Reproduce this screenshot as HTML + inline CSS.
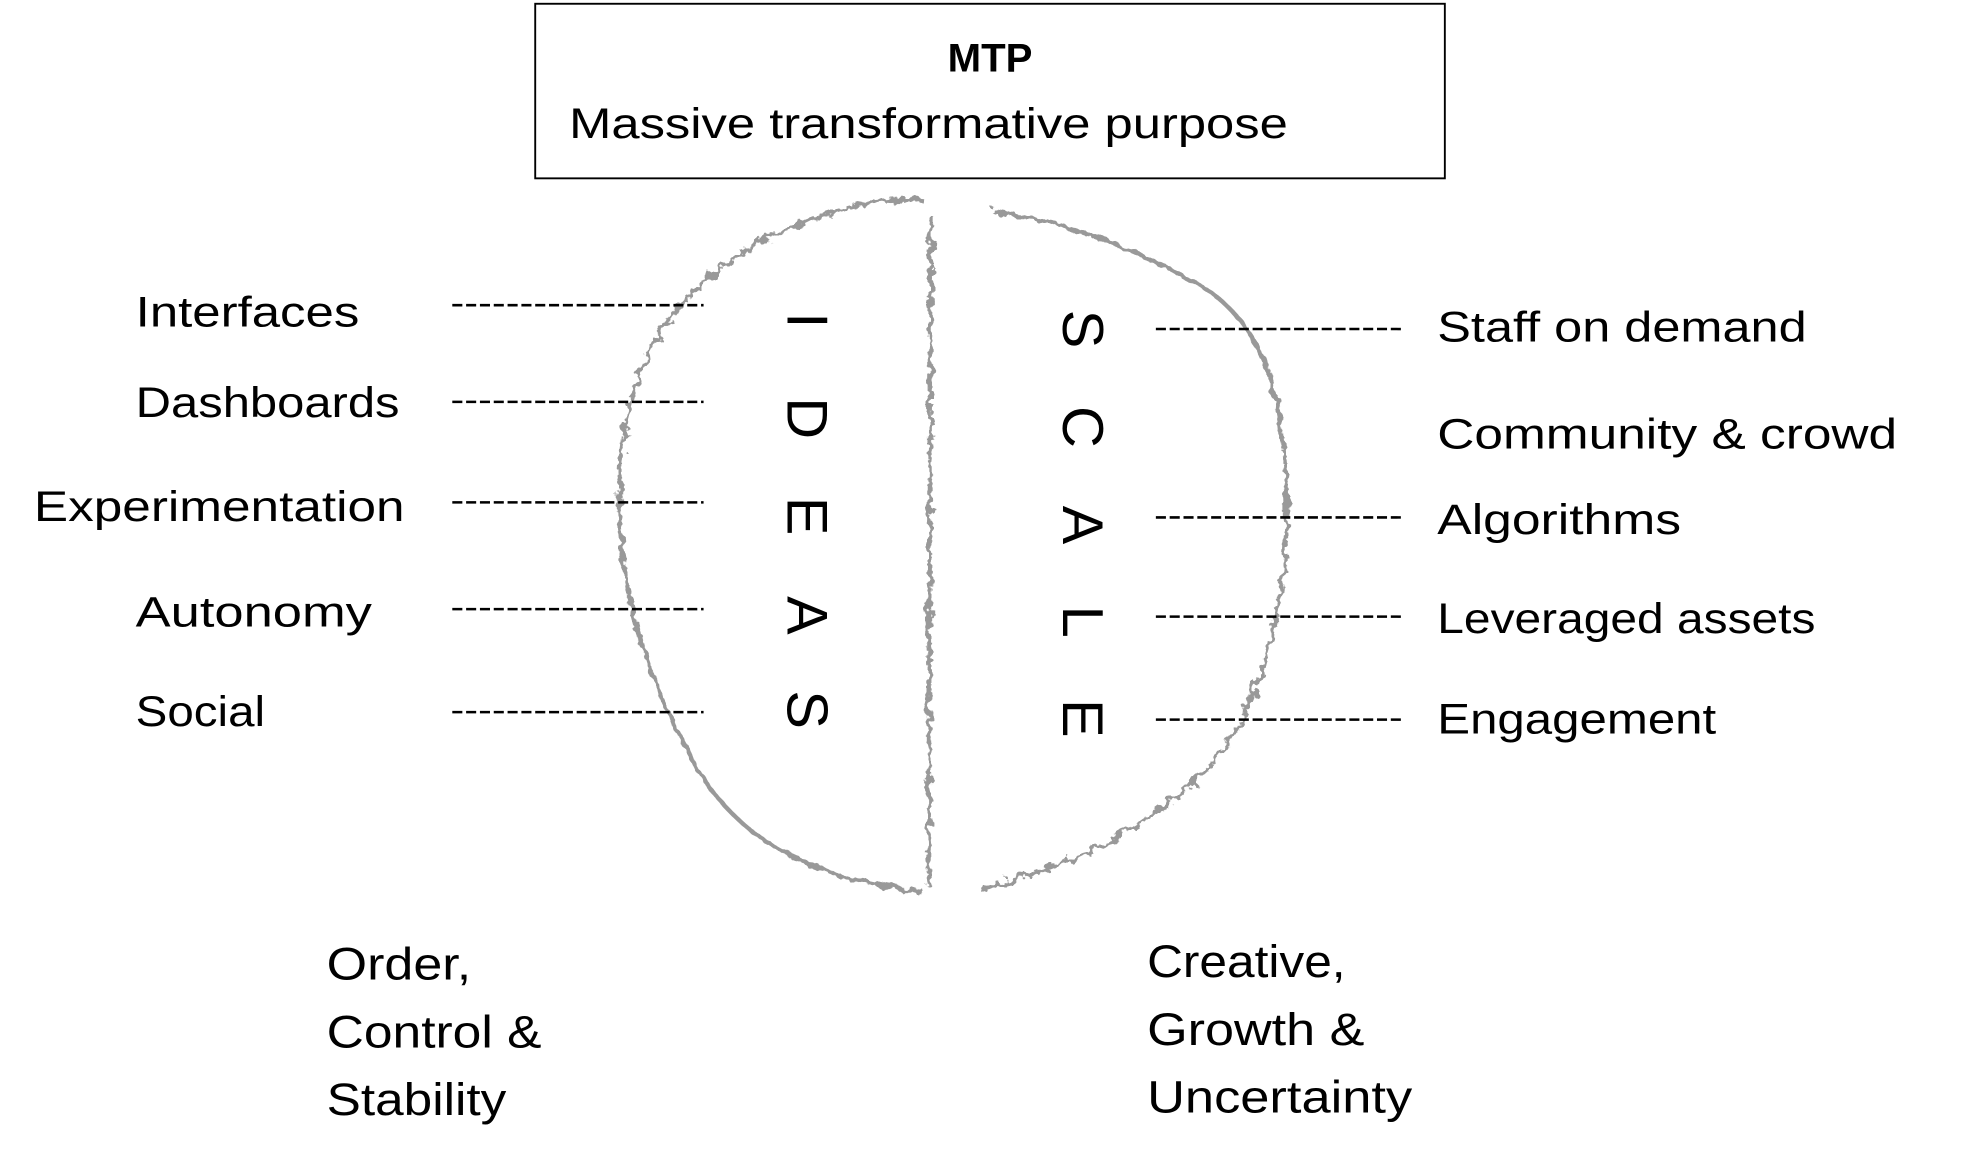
<!DOCTYPE html>
<html><head><meta charset="utf-8"><style>
html,body{margin:0;padding:0;background:#fff;}
svg{display:block}
text{font-family:"Liberation Sans",sans-serif;fill:#000;}
</style></head><body>
<svg width="1970" height="1168" viewBox="0 0 1568 930" preserveAspectRatio="none" xmlns="http://www.w3.org/2000/svg">
<defs>
<filter id="rough" x="-10%" y="-10%" width="120%" height="120%">
<feTurbulence type="fractalNoise" baseFrequency="0.12" numOctaves="3" seed="3"/>
<feDisplacementMap in="SourceGraphic" scale="10"/>
</filter>
</defs>
<rect x="426" y="3" width="724" height="139" fill="#fff" stroke="#000" stroke-width="1.5"/>
<text x="788" y="57" font-size="32" font-weight="bold" text-anchor="middle">MTP</text>
<text x="453" y="110" font-size="34" textLength="572" lengthAdjust="spacingAndGlyphs">Massive transformative purpose</text>

<g filter="url(#rough)" fill="none" stroke="#999" stroke-width="3.5" stroke-linejoin="round">
<path d="M735,160 C700,155 650,170 600,195 C550,225 520,265 505,310 C490,360 490,420 500,470 C510,520 530,570 560,620 C590,665 640,700 735,710"/>
<path d="M741,172 L739,705"/>
<path d="M790,168 C840,175 900,195 960,230 C1010,265 1022,320 1024,400 C1025,470 1010,530 985,580 C955,630 890,680 780,708"/>
</g>

<g stroke="#000" stroke-width="2" stroke-dasharray="8,3">
<line x1="360" y1="243" x2="560" y2="243"/>
<line x1="360" y1="320" x2="560" y2="320"/>
<line x1="360" y1="400" x2="560" y2="400"/>
<line x1="360" y1="485" x2="560" y2="485"/>
<line x1="360" y1="567" x2="560" y2="567"/>
<line x1="920" y1="262" x2="1117" y2="262"/>
<line x1="920" y1="412" x2="1115" y2="412"/>
<line x1="920" y1="491" x2="1117" y2="491"/>
<line x1="920" y1="573" x2="1117" y2="573"/>
</g>

<g font-size="34">
<text x="108" y="260" textLength="178" lengthAdjust="spacingAndGlyphs">Interfaces</text>
<text x="108" y="332" textLength="210" lengthAdjust="spacingAndGlyphs">Dashboards</text>
<text x="27" y="415" textLength="295" lengthAdjust="spacingAndGlyphs">Experimentation</text>
<text x="108" y="499" textLength="188" lengthAdjust="spacingAndGlyphs">Autonomy</text>
<text x="108" y="578" textLength="103" lengthAdjust="spacingAndGlyphs">Social</text>
<text x="1144" y="272" textLength="294" lengthAdjust="spacingAndGlyphs">Staff on demand</text>
<text x="1144" y="357" textLength="366" lengthAdjust="spacingAndGlyphs">Community &amp; crowd</text>
<text x="1144" y="425" textLength="194" lengthAdjust="spacingAndGlyphs">Algorithms</text>
<text x="1144" y="504" textLength="301" lengthAdjust="spacingAndGlyphs">Leveraged assets</text>
<text x="1144" y="584" textLength="222" lengthAdjust="spacingAndGlyphs">Engagement</text>
</g>
<g font-size="36">
<text x="260" y="780" textLength="115" lengthAdjust="spacingAndGlyphs">Order,</text>
<text x="260" y="834" textLength="171" lengthAdjust="spacingAndGlyphs">Control &amp;</text>
<text x="260" y="888" textLength="143" lengthAdjust="spacingAndGlyphs">Stability</text>
<text x="913" y="778" textLength="158" lengthAdjust="spacingAndGlyphs">Creative,</text>
<text x="913" y="832" textLength="173" lengthAdjust="spacingAndGlyphs">Growth &amp;</text>
<text x="913" y="886" textLength="211" lengthAdjust="spacingAndGlyphs">Uncertainty</text>
</g>

<g font-size="46" text-anchor="middle">
<text transform="translate(643,255) rotate(90)" y="16">I</text>
<text transform="translate(643,333) rotate(90)" y="16">D</text>
<text transform="translate(643,411) rotate(90)" y="16">E</text>
<text transform="translate(643,490) rotate(90)" y="16">A</text>
<text transform="translate(643,565) rotate(90)" y="16">S</text>
<text transform="translate(862,262) rotate(90)" y="16">S</text>
<text transform="translate(862,340) rotate(90)" y="16">C</text>
<text transform="translate(862,418) rotate(90)" y="16">A</text>
<text transform="translate(862,495) rotate(90)" y="16">L</text>
<text transform="translate(862,572) rotate(90)" y="16">E</text>
</g>
</svg>
</body></html>
